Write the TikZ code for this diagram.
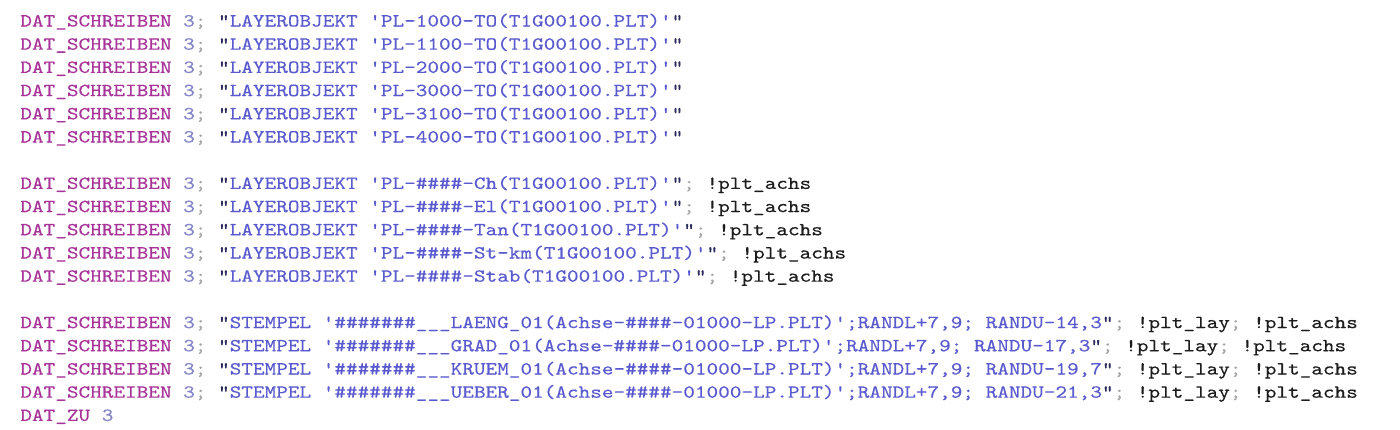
\documentclass[tikz,border=0pt]{standalone}
\usepackage{fontspec}
\setmonofont{lmmono10-regular.otf}[FakeStretch=1.2, FakeBold=0.3]
\usepackage{xcolor}
\usetikzlibrary{positioning}

\definecolor{kwcol}{HTML}{A8349A}
\definecolor{numcol}{HTML}{8585C8}
\definecolor{semicol}{HTML}{A6A6A6}
\definecolor{quotecol}{HTML}{2C2C5C}
\definecolor{strcol}{HTML}{5A5ACF}
\definecolor{cmtcol}{HTML}{1C1C1C}

\newcommand\kwd[1]{\textcolor{kwcol}{#1}}
\newcommand\numb[1]{\textcolor{numcol}{#1}}
\newcommand\semi{\textcolor{semicol}{;}}
\newcommand\qmark{\textcolor{quotecol}{"}}
\newcommand\strg[1]{\textcolor{strcol}{#1}}
\newcommand\cmt[1]{\textcolor{cmtcol}{#1}}

\tikzset{codeline/.style={anchor=base west, inner sep=0pt, font=\ttfamily\fontsize{9.23}{11.6}\selectfont}}

\begin{document}
\begin{tikzpicture}
% Background
\fill[white] (0,0) rectangle (700pt,-214.5pt);
\useasboundingbox (0,0) rectangle (700pt,-214.5pt);

% Layer objects
\foreach \pl [count=\i from 0] in {1000,1100,2000,3000,3100,4000}
    \node[codeline] (lay\pl) at (10pt,{-13.25pt-11.6pt*\i}) {\kwd{DAT\_SCHREIBEN} \numb{3}\semi{} \qmark\strg{LAYEROBJEKT 'PL-\pl-TO(T1G00100.PLT)'}\qmark};

% Axis layers
\foreach \suf [count=\i from 7] in {Ch,El,Tan,St-km,Stab}
    \node[codeline] (axis\i) at (10pt,{-13.25pt-11.6pt*\i}) {\kwd{DAT\_SCHREIBEN} \numb{3}\semi{} \qmark\strg{LAYEROBJEKT 'PL-\#\#\#\#-\suf(T1G00100.PLT)'}\qmark\semi{} \cmt{!plt\_achs}};

% Stamps
\foreach \stp/\ru [count=\i from 13] in {LAENG/{14,3},GRAD/{17,3},KRUEM/{19,7},UEBER/{21,3}}
    \node[codeline] (stamp\i) at (10pt,{-13.25pt-11.6pt*\i}) {\kwd{DAT\_SCHREIBEN} \numb{3}\semi{} \qmark\strg{STEMPEL '\#\#\#\#\#\#\#\_\_\_\stp\_01(Achse-\#\#\#\#-01000-LP.PLT)';RANDL+7,9; RANDU-\ru}\qmark\semi{} \cmt{!plt\_lay}\semi{} \cmt{!plt\_achs}};

% Close
\node[codeline] (close) at (10pt,{-13.25pt-11.6pt*17}) {\kwd{DAT\_ZU} \numb{3}};
\end{tikzpicture}
\end{document}
